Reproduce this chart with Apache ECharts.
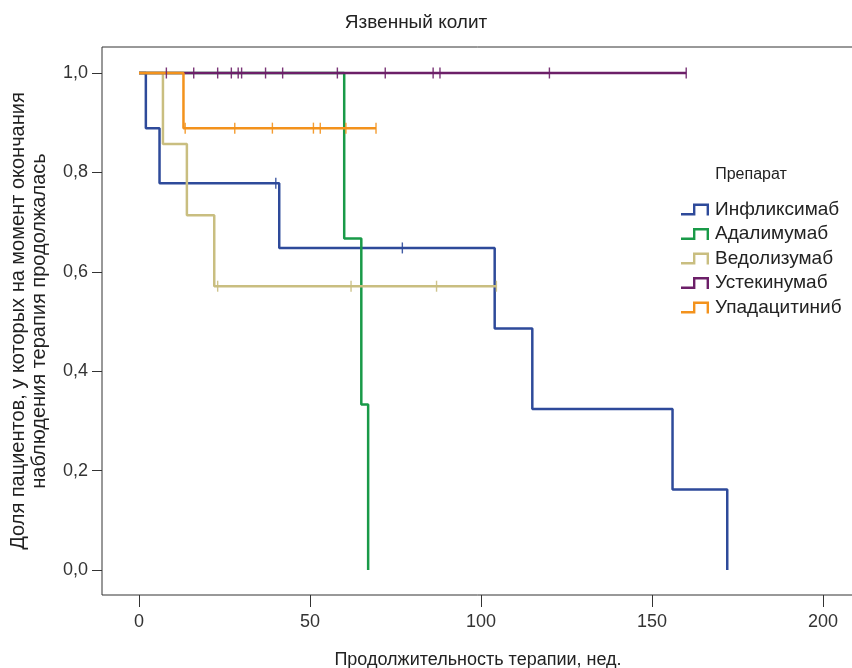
<!DOCTYPE html>
<html>
<head>
<meta charset="utf-8">
<script src="https://cdn.jsdelivr.net/npm/echarts@6/dist/echarts.min.js"></script>
<style>
  html, body { margin: 0; padding: 0; background: #fff; }
  #chart { width: 852px; height: 668px; }
</style>
</head>
<body>
<div id="chart"></div>
<script>
// Kaplan-Meier curves, values
const drugNames = ["Инфликсимаб", "Адалимумаб", "Ведолизумаб", "Устекинумаб", "Упадацитиниб"];
const drugColors = ["#2e4a9a", "#199a48", "#c9be80", "#6c1f68", "#f3921c"];

// step points: time (weeks) and survival after that time
const inflixTimes = [0, 2, 6, 41, 104, 115, 156, 172];
const inflixSurv = [1, 0.889, 0.778, 0.648, 0.486, 0.324, 0.162, 0];
const inflixCensTimes = [40, 77];
const inflixCensSurv = [0.778, 0.648];

const adaTimes = [0, 60, 65, 67];
const adaSurv = [1, 0.667, 0.333, 0];
const adaCensTimes = [];
const adaCensSurv = [];

const vedoTimes = [0, 7, 14, 22, 104.5];
const vedoSurv = [1, 0.857, 0.714, 0.571, 0.571];
const vedoCensTimes = [23, 62, 87, 104.5];
const vedoCensSurv = [0.571, 0.571, 0.571, 0.571];

const ustekTimes = [0, 160];
const ustekSurv = [1, 1];
const ustekCensTimes = [8, 16, 23, 27, 29, 30, 37, 42, 58, 72, 86, 88, 120, 160];
const ustekCensSurv = [1, 1, 1, 1, 1, 1, 1, 1, 1, 1, 1, 1, 1, 1];

const upaTimes = [0, 13, 69.3];
const upaSurv = [1, 0.889, 0.889];
const upaCensTimes = [13.5, 28, 39, 51, 53, 60.5, 69.3];
const upaCensSurv = [0.889, 0.889, 0.889, 0.889, 0.889, 0.889, 0.889];

const xTickValues = [0, 50, 100, 150, 200];
const yTickValues = [0, 0.2, 0.4, 0.6, 0.8, 1.0];

const FONT = "'Liberation Sans', Arial, sans-serif";

const zip = (a, b) => a.map((v, i) => [v, b[i]]);

const curves = [
  [inflixTimes, inflixSurv, inflixCensTimes, inflixCensSurv],
  [adaTimes, adaSurv, adaCensTimes, adaCensSurv],
  [vedoTimes, vedoSurv, vedoCensTimes, vedoCensSurv],
  [ustekTimes, ustekSurv, ustekCensTimes, ustekCensSurv],
  [upaTimes, upaSurv, upaCensTimes, upaCensSurv]
];

const series = [];
curves.forEach((c, i) => {
  series.push({
    name: drugNames[i],
    type: "line",
    step: "end",
    data: zip(c[0], c[1]),
    showSymbol: false,
    symbol: "none",
    lineStyle: { color: drugColors[i], width: 2.5 },
    itemStyle: { color: drugColors[i] },
    z: 2 + i
  });
  series.push({
    name: drugNames[i] + " цензур.",
    type: "scatter",
    data: zip(c[2], c[3]),
    symbol: "rect",
    symbolSize: [1.4, 11],
    itemStyle: { color: drugColors[i], opacity: 0.9 },
    z: 8
  });
});

// step-shaped legend glyph
const stepIcon = "path://M0,9.6 L12,9.6 L12,0 L28,0 L28,12 L25.6,12 L25.6,2.4 L14.4,2.4 L14.4,12 L0,12 Z";

const chart = echarts.init(document.getElementById("chart"));
chart.setOption({
  animation: false,
  backgroundColor: "#fff",
  title: [
    {
      text: "Язвенный колит",
      left: 411, top: 8, textAlign: "center",
      textStyle: { fontFamily: FONT, fontSize: 19, fontWeight: "normal", color: "#222" }
    },
    {
      text: "Препарат",
      left: 746, top: 162, textAlign: "center",
      textStyle: { fontFamily: FONT, fontSize: 16, fontWeight: "normal", color: "#222" }
    }
  ],
  legend: {
    data: drugNames.map((n, i) => ({ name: n, icon: stepIcon, itemStyle: { color: drugColors[i] } })),
    orient: "vertical",
    left: 676, top: 195,
    itemWidth: 30, itemHeight: 12,
    itemGap: 5.5,
    selectedMode: false,
    textStyle: { fontFamily: FONT, fontSize: 19, lineHeight: 19, color: "#222" }
  },
  grid: {
    left: 102, top: 47, right: -2, bottom: 73,
    outerBoundsMode: "none",
    containLabel: false,
    show: true, borderColor: "#333", borderWidth: 1, backgroundColor: "#fff"
  },
  xAxis: {
    type: "value",
    min: -10.82, max: 209.06,
    splitLine: { show: false },
    axisLine: { show: false, onZero: false },
    axisTick: { show: true, customValues: xTickValues, length: 12, lineStyle: { color: "#333" } },
    axisLabel: {
      customValues: xTickValues, margin: 18,
      fontFamily: FONT, fontSize: 18, color: "#333"
    },
    name: "Продолжительность терапии, нед.",
    nameLocation: "middle",
    nameGap: 56,
    nameTextStyle: { fontFamily: FONT, fontSize: 18, color: "#222" }
  },
  yAxis: {
    type: "value",
    min: -0.0503, max: 1.0523,
    splitLine: { show: false },
    axisLine: { show: false, onZero: false },
    axisTick: { show: true, customValues: yTickValues, length: 10, lineStyle: { color: "#333" } },
    axisLabel: {
      customValues: yTickValues, margin: 14,
      fontFamily: FONT, fontSize: 18, color: "#333",
      formatter: v => v.toFixed(1).replace(".", ",")
    },
    name: "Доля пациентов, у которых на момент окончания\nнаблюдения терапия продолжалась",
    nameLocation: "middle",
    nameRotate: 90,
    nameGap: 52,
    nameTextStyle: { fontFamily: FONT, fontSize: 20, lineHeight: 21, color: "#222", align: "center" }
  },
  series: series
});
</script>
</body>
</html>
